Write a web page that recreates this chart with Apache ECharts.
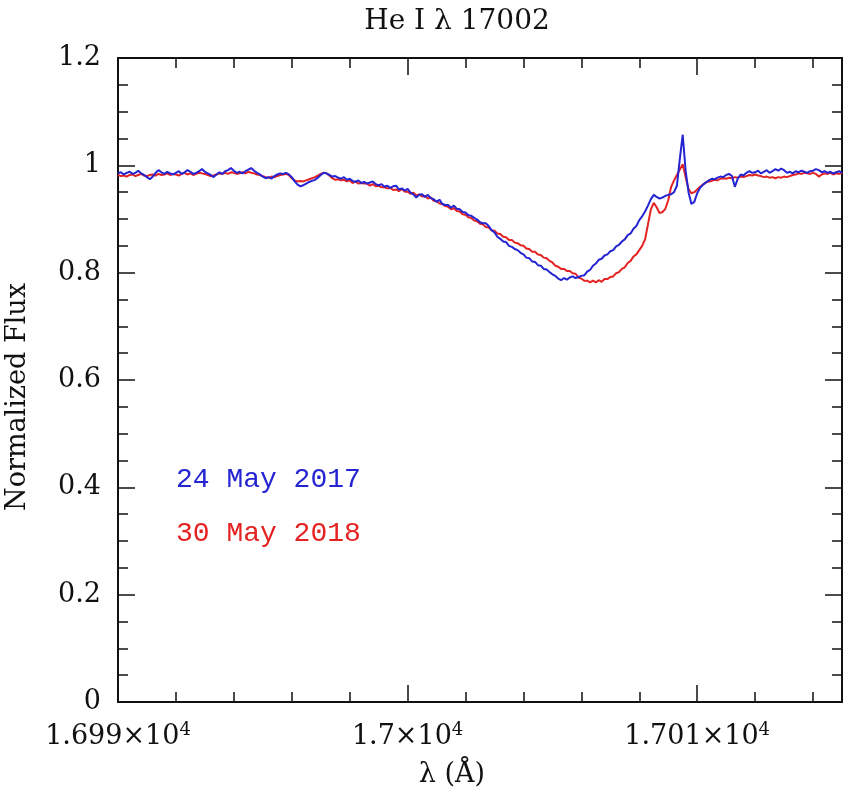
<!DOCTYPE html>
<html>
<head>
<meta charset="utf-8">
<script src="https://cdn.jsdelivr.net/npm/echarts@6/dist/echarts.min.js"></script>
<style>
html,body{margin:0;padding:0;background:#fff;}
#chart{width:845px;height:795px;}
</style>
</head>
<body>
<div id="chart"></div>
<script>
// Wavelength grid (Å): start and step of the sampled spectra
const lambdaStart = 16990;
const lambdaStep = 0.1;

// Normalized flux, 24 May 2017 (blue)
const flux2017 = [
0.985,0.987,0.983,0.986,0.988,0.984,0.986,0.990,0.985,0.982,
0.978,0.974,0.979,0.986,0.991,0.987,0.984,0.988,0.985,0.983,
0.986,0.989,0.984,0.987,0.991,0.988,0.984,0.986,0.989,0.993,
0.988,0.985,0.982,0.978,0.983,0.987,0.984,0.989,0.991,0.995,
0.990,0.986,0.988,0.985,0.989,0.992,0.995,0.990,0.986,0.983,
0.979,0.976,0.978,0.975,0.980,0.983,0.985,0.984,0.986,0.983,
0.978,0.970,0.964,0.961,0.963,0.966,0.969,0.971,0.973,0.977,
0.982,0.986,0.985,0.982,0.979,0.980,0.977,0.975,0.978,0.973,
0.975,0.971,0.969,0.972,0.967,0.969,0.966,0.968,0.970,0.965,
0.963,0.965,0.960,0.962,0.958,0.961,0.962,0.955,0.957,0.953,
0.956,0.949,0.946,0.940,0.945,0.946,0.941,0.945,0.939,0.937,
0.932,0.936,0.928,0.926,0.926,0.921,0.925,0.919,0.918,0.913,
0.912,0.907,0.906,0.902,0.899,0.894,0.892,0.892,0.887,0.879,
0.875,0.867,0.863,0.858,0.857,0.850,0.848,0.844,0.842,0.837,
0.834,0.828,0.827,0.821,0.820,0.814,0.813,0.807,0.806,0.801,
0.797,0.794,0.789,0.786,0.790,0.787,0.791,0.793,0.790,0.792,
0.794,0.795,0.802,0.805,0.813,0.817,0.824,0.826,0.832,0.834,
0.840,0.842,0.849,0.852,0.858,0.862,0.870,0.873,0.882,0.887,
0.898,0.905,0.914,0.925,0.937,0.945,0.941,0.938,0.940,0.943,
0.945,0.946,0.950,0.962,1.012,1.057,0.990,0.950,0.928,0.932,
0.948,0.958,0.964,0.968,0.972,0.975,0.974,0.977,0.979,0.978,
0.982,0.984,0.980,0.960,0.975,0.983,0.981,0.986,0.989,0.986,
0.987,0.990,0.985,0.988,0.991,0.986,0.989,0.993,0.990,0.994,
0.991,0.986,0.988,0.985,0.989,0.987,0.990,0.988,0.986,0.989,
0.990,0.993,0.991,0.987,0.989,0.986,0.988,0.985,0.987,0.989,0.986
];

// Normalized flux, 30 May 2018 (red)
const flux2018 = [
0.982,0.980,0.981,0.979,0.982,0.983,0.980,0.982,0.984,0.981,
0.980,0.982,0.983,0.981,0.984,0.982,0.983,0.985,0.982,0.984,
0.983,0.981,0.984,0.986,0.983,0.985,0.982,0.984,0.986,0.985,
0.984,0.982,0.980,0.981,0.983,0.985,0.984,0.986,0.984,0.987,
0.986,0.984,0.985,0.987,0.985,0.988,0.986,0.985,0.983,0.982,
0.980,0.978,0.977,0.979,0.978,0.980,0.982,0.983,0.984,0.982,
0.976,0.972,0.970,0.971,0.970,0.972,0.974,0.976,0.978,0.981,
0.984,0.986,0.985,0.981,0.976,0.973,0.974,0.972,0.973,0.970,
0.972,0.967,0.970,0.966,0.967,0.966,0.966,0.962,0.965,0.961,
0.962,0.959,0.959,0.957,0.958,0.954,0.955,0.952,0.956,0.951,
0.951,0.947,0.949,0.944,0.946,0.942,0.943,0.938,0.940,0.934,
0.933,0.929,0.928,0.924,0.923,0.918,0.920,0.915,0.914,0.909,
0.908,0.903,0.902,0.897,0.896,0.891,0.890,0.885,0.884,0.879,
0.878,0.873,0.872,0.867,0.866,0.861,0.861,0.856,0.855,0.851,
0.850,0.845,0.844,0.839,0.839,0.834,0.833,0.828,0.827,0.822,
0.819,0.813,0.811,0.807,0.807,0.803,0.803,0.799,0.798,0.791,
0.789,0.785,0.785,0.782,0.785,0.782,0.786,0.783,0.788,0.788,
0.792,0.793,0.799,0.801,0.807,0.810,0.818,0.822,0.830,0.834,
0.842,0.850,0.862,0.890,0.918,0.930,0.922,0.911,0.913,0.919,
0.935,0.960,0.972,0.982,0.992,1.002,0.978,0.956,0.948,0.950,
0.955,0.960,0.964,0.968,0.970,0.971,0.973,0.972,0.975,0.976,
0.975,0.977,0.976,0.978,0.977,0.979,0.978,0.980,0.982,0.981,
0.983,0.981,0.980,0.978,0.979,0.977,0.978,0.976,0.978,0.977,
0.979,0.978,0.980,0.982,0.983,0.985,0.984,0.986,0.985,0.984,
0.986,0.984,0.979,0.983,0.985,0.984,0.986,0.983,0.985,0.984,0.986
];

const seriesNames = ['24 May 2017', '30 May 2018'];
const titleText = 'He I \u03bb 17002';
const xAxisTitle = '\u03bb (\u00c5)';
const yAxisTitle = 'Normalized Flux';

const xMin = 16990, xMax = 17015, xMajor = 10, xMinor = 2;
const yMin = 0, yMax = 1.2, yMajor = 0.2;

const BLUE = '#2424d2';
const RED = '#e42222';
const SERIF = '"DejaVu Serif", serif';

function pairs(arr) {
  return arr.map((v, i) => [+(lambdaStart + i * lambdaStep).toFixed(2), v]);
}

const chart = echarts.init(document.getElementById('chart'), null, {renderer: 'canvas'});

const frame = {show: true, lineStyle: {color: '#111', width: 2}};
const tickStyle = {color: '#111', width: 1.5};

function xAxisCfg(pos, interval, tickLen, showLine, showLabel) {
  return {
    type: 'value', position: pos, min: xMin, max: xMax, interval: interval,
    axisLine: showLine ? frame : {show: false},
    axisTick: {show: true, inside: true, length: tickLen, lineStyle: tickStyle},
    splitLine: {show: false},
    axisLabel: showLabel ? {
      show: true, margin: 19,
      formatter: function (v) {
        if (Math.abs(v % xMajor) > 1e-6) return '';
        const m = parseFloat((v / 1e4).toFixed(4));
        return '{a|' + m + '\u00d710}{s|4}';
      },
      rich: {
        a: {fontFamily: SERIF, fontSize: 27, color: '#111', lineHeight: 31},
        s: {fontFamily: SERIF, fontSize: 18, color: '#111', lineHeight: 18, verticalAlign: 'top'}
      }
    } : {show: false}
  };
}

function yAxisCfg(pos, showLabel) {
  return {
    type: 'value', position: pos, min: yMin, max: yMax, interval: yMajor,
    axisLine: frame,
    axisTick: {show: true, inside: true, length: 17, lineStyle: tickStyle},
    minorTick: {show: true, splitNumber: 4, length: 10, lineStyle: tickStyle},
    splitLine: {show: false},
    axisLabel: showLabel ? {
      show: true, margin: 17, fontFamily: SERIF, fontSize: 27, color: '#111',
      formatter: function (v) { return String(parseFloat(v.toFixed(2))); }
    } : {show: false}
  };
}

chart.setOption({
  animation: false,
  backgroundColor: '#fff',
  grid: {left: 118, right: 1, top: 58, bottom: 93, containLabel: false},
  xAxis: [
    xAxisCfg('bottom', xMinor, 10, true, true),
    xAxisCfg('bottom', xMajor, 17, false, false),
    xAxisCfg('top', xMinor, 10, true, false),
    xAxisCfg('top', xMajor, 17, false, false)
  ],
  yAxis: [
    yAxisCfg('left', true),
    yAxisCfg('right', false)
  ],
  series: [
    {name: seriesNames[1], type: 'line', xAxisIndex: 0, yAxisIndex: 0, data: pairs(flux2018),
     showSymbol: false, symbol: 'none', lineStyle: {color: RED, width: 2}, itemStyle: {color: RED}, z: 2},
    {name: seriesNames[0], type: 'line', xAxisIndex: 0, yAxisIndex: 0, data: pairs(flux2017),
     showSymbol: false, symbol: 'none', lineStyle: {color: BLUE, width: 2}, itemStyle: {color: BLUE}, z: 3}
  ],
  graphic: [
    {type: 'text', x: 457, y: 22, style: {text: titleText, font: '28px ' + SERIF, fill: '#111', align: 'center', verticalAlign: 'middle'}},
    {type: 'text', x: 452, y: 775, style: {text: xAxisTitle, font: '27px ' + SERIF, fill: '#111', align: 'center', verticalAlign: 'middle'}},
    {type: 'text', x: 18, y: 397, rotation: Math.PI / 2, style: {text: yAxisTitle, font: '27px ' + SERIF, fill: '#111', align: 'center', verticalAlign: 'middle'}},
    {type: 'text', x: 176, y: 480, style: {text: seriesNames[0], font: '28px "Liberation Mono", monospace', fill: BLUE, align: 'left', verticalAlign: 'middle'}},
    {type: 'text', x: 176, y: 534, style: {text: seriesNames[1], font: '28px "Liberation Mono", monospace', fill: RED, align: 'left', verticalAlign: 'middle'}}
  ]
});
</script>
</body>
</html>
